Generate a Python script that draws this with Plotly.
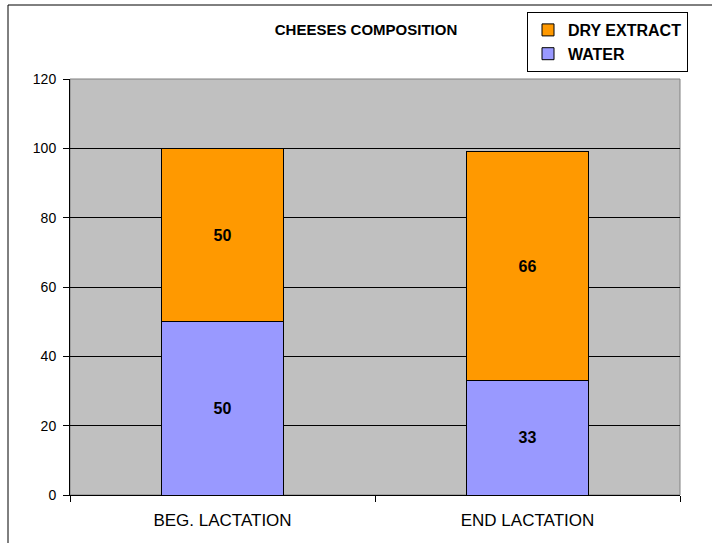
import plotly.graph_objects as go

categories = ["BEG. LACTATION", "END LACTATION"]
water = [50, 33]
dry_extract = [50, 66]
y_ticks = [0, 20, 40, 60, 80, 100, 120]

FONT = "Liberation Sans, Arial, sans-serif"

fig = go.Figure()
fig.add_trace(go.Bar(
    x=categories, y=water, name="WATER",
    marker=dict(color="#9999FF", line=dict(color="black", width=1)),
    text=[str(v) for v in water], textposition="inside", insidetextanchor="middle",
    textfont=dict(family=FONT, size=16, color="black", weight="bold"),
    width=0.4,
))
fig.add_trace(go.Bar(
    x=categories, y=dry_extract, name="DRY EXTRACT",
    marker=dict(color="#FF9900", line=dict(color="black", width=1)),
    text=[str(v) for v in dry_extract], textposition="inside", insidetextanchor="middle",
    textfont=dict(family=FONT, size=16, color="black", weight="bold"),
    width=0.4,
))

fig.update_layout(
    width=712, height=543,
    barmode="stack",
    paper_bgcolor="white",
    plot_bgcolor="#C0C0C0",
    margin=dict(l=70, r=32, t=79, b=48, autoexpand=False),
    font=dict(family=FONT, color="black"),
    title=dict(text="<b>CHEESES COMPOSITION</b>", x=366 / 712, xanchor="center",
               y=1 - 30 / 543, yanchor="middle",
               font=dict(family=FONT, size=15, color="black")),
    legend=dict(x=(527 - 70) / 610, y=1 + (79 - 12) / 416, xanchor="left", yanchor="top",
                bordercolor="black", borderwidth=1, bgcolor="white",
                font=dict(family=FONT, size=16, color="black", weight="bold"),
                itemwidth=30, tracegroupgap=0),
    uniformtext=dict(mode="show", minsize=8),
    showlegend=True,
)
fig.update_xaxes(
    type="category", tickson="boundaries", ticks="outside", ticklen=6,
    tickcolor="black", showline=True, linecolor="black", linewidth=1,
    ticklabelstandoff=10, automargin=False,
    tickfont=dict(family=FONT, size=17, color="black"), showgrid=False,
)
fig.update_yaxes(
    range=[0, 120], tickvals=y_ticks, ticks="outside", ticklen=6,
    tickcolor="black", showline=True, linecolor="black", linewidth=1,
    gridcolor="black", gridwidth=1, zeroline=False, ticklabelstandoff=4,
    automargin=False,
    tickfont=dict(family=FONT, size=14, color="black"),
)
# plot area top/right border (grey edge)
fig.add_shape(type="rect", xref="paper", yref="paper", x0=0, x1=1, y0=0, y1=1,
              line=dict(color="#808080", width=1), layer="below")
# outer chart border (top and left visible)
fig.add_shape(type="rect", xref="paper", yref="paper",
              x0=(8 - 70) / 610, x1=(730 - 70) / 610,
              y0=(495 - 560) / 416, y1=1 + (79 - 5) / 416,
              line=dict(color="black", width=1))

fig.write_html("out.html", config={"displayModeBar": False},
               post_script="document.body.style.margin='0';")
